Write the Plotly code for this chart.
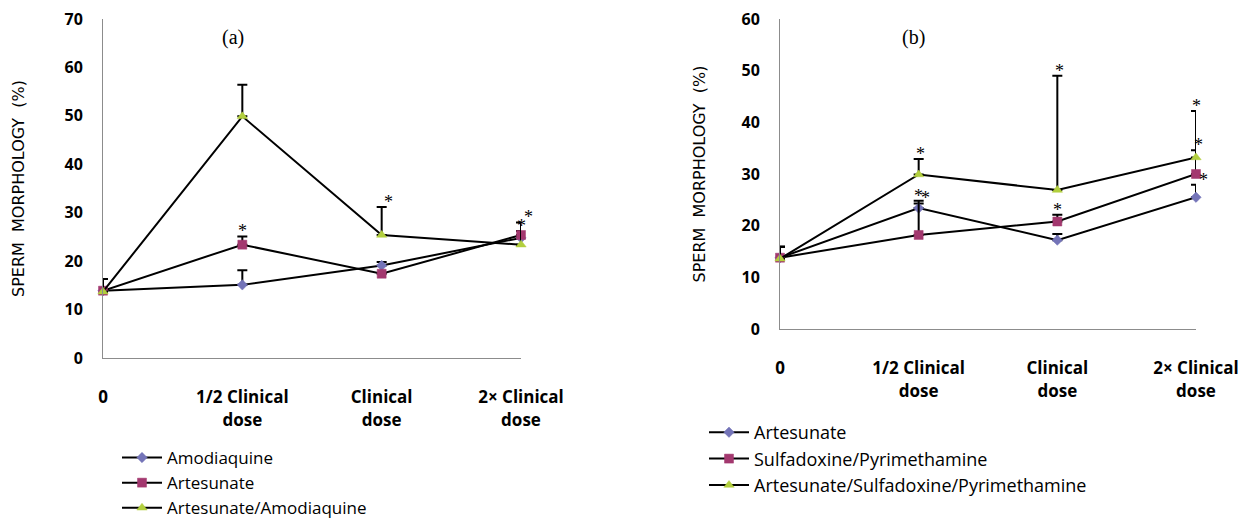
import plotly.graph_objects as go

# ---------------- data ----------------
dose_labels = ["0", "1/2 Clinical<br>dose", "Clinical<br>dose", "2× Clinical<br>dose"]
dose_pos = [0, 1, 2, 3]

# Panel (a)
a_names = ["Amodiaquine", "Artesunate", "Artesunate/Amodiaquine"]
a_amodiaquine = [13.9, 15.1, 19.1, 24.8]
a_amodiaquine_err = [2.4, 3.0, 0.7, 0.0]
a_amodiaquine_sig = [0, 0, 0, 0]
a_artesunate = [13.9, 23.4, 17.4, 25.4]
a_artesunate_err = [2.4, 1.7, 0.0, 0.8]
a_artesunate_sig = [0, 1, 0, 1]
a_combo = [13.7, 49.9, 25.4, 23.4]
a_combo_err = [2.6, 6.5, 5.8, 4.6]
a_combo_sig = [0, 0, 1, 1]

# Panel (b)
b_names = ["Artesunate", "Sulfadoxine/Pyrimethamine", "Artesunate/Sulfadoxine/Pyrimethamine"]
b_artesunate = [13.8, 23.4, 17.2, 25.5]
b_artesunate_err = [2.1, 0.9, 1.2, 2.4]
b_artesunate_sig = [0, 1, 0, 1]
b_sp = [13.8, 18.2, 20.8, 30.0]
b_sp_err = [2.1, 6.6, 1.3, 12.2]
b_sp_sig = [0, 1, 1, 1]
b_asp = [13.6, 29.9, 26.9, 33.2]
b_asp_err = [2.3, 3.0, 22.1, 1.4]
b_asp_sig = [0, 1, 1, 1]

# ---------------- styles ----------------
W, H = 1247 - 16, 526 - 16   # page body has an 8px margin
OFF = 8


def px(xpix):
    return (xpix - OFF) / W


def py(ypix):
    return 1 - (ypix - OFF) / H


colors = ["#7474B8", "#A3386F", "#B2CF3E"]
symbols = ["diamond", "square", "triangle-up"]
msizes = [8, 9, 9]
xtick_font = dict(family="Open Sans", size=17, color="#000000", weight="bold")
ytick_font = dict(family="Open Sans", size=16, color="#000000", weight="bold")
star_font = dict(family="Liberation Serif", size=18, color="#000000")
title_font = dict(family="DejaVu Sans", size=16, color="#000000")

fig = go.Figure()


def add_panel(series, errs, sigs, names, xa, ya, legend, star_dx):
    for i, (vals, err, sig, name) in enumerate(zip(series, errs, sigs, names)):
        fig.add_trace(go.Scatter(
            x=dose_pos, y=vals, name=name, mode="lines+markers",
            xaxis=xa, yaxis=ya, legend=legend, cliponaxis=False,
            line=dict(color="#000000", width=2),
            marker=dict(symbol=symbols[i], size=msizes[i], color=colors[i],
                        line=dict(width=0.5, color=colors[i])),
            error_y=dict(type="data", symmetric=False, array=err,
                         arrayminus=[0] * len(err), color="#000000",
                         thickness=2, width=5),
        ))
        for j, s in enumerate(sig):
            if s:
                fig.add_annotation(
                    x=dose_pos[j], y=vals[j] + err[j], xref=xa, yref=ya,
                    text="*", showarrow=False, yanchor="bottom", xanchor="center",
                    xshift=star_dx[i], yshift=-7, font=star_font)


add_panel([a_amodiaquine, a_artesunate, a_combo],
          [a_amodiaquine_err, a_artesunate_err, a_combo_err],
          [a_amodiaquine_sig, a_artesunate_sig, a_combo_sig],
          a_names, "x", "y", "legend", [0, 0, 7])
add_panel([b_artesunate, b_sp, b_asp],
          [b_artesunate_err, b_sp_err, b_asp_err],
          [b_artesunate_sig, b_sp_sig, b_asp_sig],
          b_names, "x2", "y2", "legend2", [7, 0, 2])

xcommon = dict(range=[0, 3], tickvals=dose_pos, ticktext=dose_labels,
               showgrid=False, zeroline=False, showline=True, linecolor="#8C8C8C",
               linewidth=1, ticks="outside", ticklen=24, tickcolor="rgba(0,0,0,0)",
               tickfont=xtick_font, automargin=False, fixedrange=True,
               ticklabeloverflow="allow")


def ycommon(standoff):
    return dict(showgrid=False, zeroline=False, showline=True, linecolor="#8C8C8C",
                linewidth=1, ticks="outside", ticklen=16, tickcolor="rgba(0,0,0,0)",
                tickfont=ytick_font, automargin=False, fixedrange=True, dtick=10,
                ticklabeloverflow="allow",
                title=dict(text="SPERM  MORPHOLOGY  (%)", font=title_font,
                           standoff=standoff))


fig.update_layout(
    width=W, height=H, margin=dict(l=0, r=0, t=0, b=0, autoexpand=False),
    paper_bgcolor="white", plot_bgcolor="white", showlegend=True,
    xaxis=dict(domain=[px(103), px(521)], anchor="y", **xcommon),
    yaxis=dict(domain=[py(358), py(19)], anchor="x", range=[0, 70], **ycommon(35)),
    xaxis2=dict(domain=[px(780), px(1196)], anchor="y2", **xcommon),
    yaxis2=dict(domain=[py(329), py(19)], anchor="x2", range=[0, 60], **ycommon(31)),
    legend=dict(x=px(117), y=py(440), xanchor="left", yanchor="top",
                font=dict(family="Open Sans", size=17, color="#000000"),
                bgcolor="rgba(0,0,0,0)", itemwidth=40, tracegroupgap=0),
    legend2=dict(x=px(704), y=py(414), xanchor="left", yanchor="top",
                 font=dict(family="Open Sans", size=18, color="#000000"),
                 bgcolor="rgba(0,0,0,0)", itemwidth=40, tracegroupgap=0),
    annotations=list(fig.layout.annotations) + [
        dict(text="(a)", x=px(233), y=py(37), xref="paper", yref="paper",
             xanchor="center", yanchor="middle", showarrow=False,
             font=dict(family="Liberation Serif", size=20, color="#000000")),
        dict(text="(b)", x=px(913), y=py(37), xref="paper", yref="paper",
             xanchor="center", yanchor="middle", showarrow=False,
             font=dict(family="Liberation Serif", size=20, color="#000000")),
    ],
)

fig.write_html("out.html")
